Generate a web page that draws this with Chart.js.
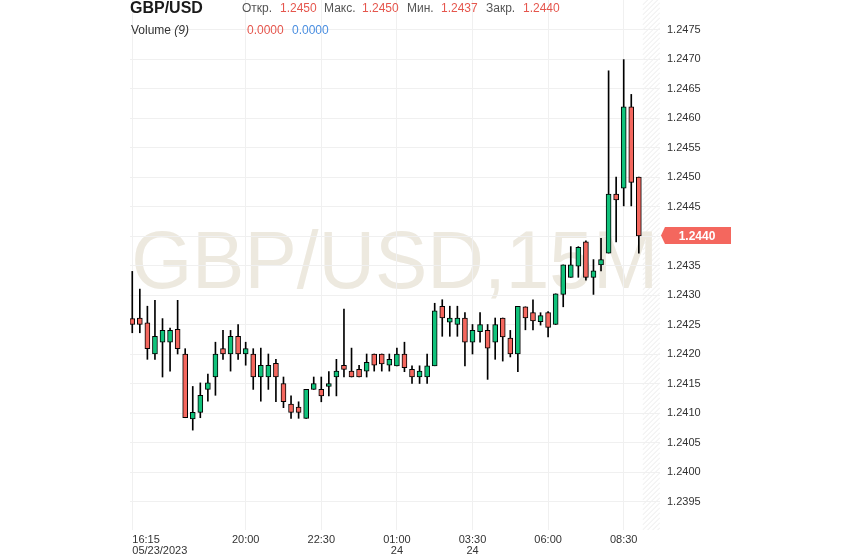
<!DOCTYPE html>
<html>
<head>
<meta charset="utf-8">
<script src="https://cdn.jsdelivr.net/npm/chart.js@4.4.0/dist/chart.umd.min.js"></script>
<style>
  html, body { margin: 0; padding: 0; background: #fff; }
  #wrap { position: relative; width: 844px; height: 558px; font-family: 'Liberation Sans', Arial, sans-serif; }
  #c { position: absolute; left: 0; top: 0; }
  .t { position: absolute; white-space: nowrap; font-size: 12px; line-height: 12px; color: #555; }
  .sym { font-size: 16px; line-height: 16px; font-weight: bold; color: #1a1a1a; }
  .red { color: #e5564d; }
  .blue { color: #4a8ee0; }
  .vol { color: #333; }
</style>
</head>
<body>
<div id="wrap">
  <canvas id="c" width="844" height="558"></canvas>
  <div class="t sym" style="left:130px;top:0px">GBP/USD</div>
  <div class="t" style="left:242px;top:2px">Откр.</div>
  <div class="t red" id="hO" style="left:280px;top:2px"></div>
  <div class="t" style="left:324px;top:2px">Макс.</div>
  <div class="t red" id="hH" style="left:362px;top:2px"></div>
  <div class="t" style="left:407px;top:2px">Мин.</div>
  <div class="t red" id="hL" style="left:441px;top:2px"></div>
  <div class="t" style="left:486px;top:2px">Закр.</div>
  <div class="t red" id="hC" style="left:523px;top:2px"></div>
  <div class="t vol" style="left:131px;top:24px">Volume <i>(9)</i></div>
  <div class="t red" style="left:247px;top:24px">0.0000</div>
  <div class="t blue" style="left:292px;top:24px">0.0000</div>
</div>
<script>
/* GBP/USD 15-minute candles, 05/23/2023 16:15 -> 05/24 09:00 (index 0..67) */
const opens = [
  1.24260, 1.24261, 1.24253, 1.24200, 1.24220, 1.24220, 1.24242, 1.24200, 1.24090, 1.24101,
  1.24140, 1.24161, 1.24209, 1.24200, 1.24230, 1.24200, 1.24200, 1.24161, 1.24161, 1.24184,
  1.24150, 1.24115, 1.24110, 1.24091, 1.24140, 1.24140, 1.24145, 1.24161, 1.24181, 1.24171,
  1.24174, 1.24171, 1.24200, 1.24200, 1.24181, 1.24180, 1.24200, 1.24174, 1.24161, 1.24161,
  1.24180, 1.24281, 1.24254, 1.24250, 1.24261, 1.24220, 1.24238, 1.24240, 1.24220, 1.24261,
  1.24227, 1.24200, 1.24280, 1.24270, 1.24255, 1.24270, 1.24250, 1.24301, 1.24330, 1.24349,
  1.24390, 1.24330, 1.24351, 1.24371, 1.24471, 1.24481, 1.24619, 1.24500
];
const highs = [
  1.24340, 1.24310, 1.24281, 1.24291, 1.24260, 1.24244, 1.24291, 1.24209, 1.24145, 1.24151,
  1.24166, 1.24220, 1.24240, 1.24240, 1.24250, 1.24220, 1.24209, 1.24210, 1.24200, 1.24191,
  1.24161, 1.24129, 1.24119, 1.24140, 1.24161, 1.24161, 1.24170, 1.24191, 1.24276, 1.24210,
  1.24181, 1.24200, 1.24200, 1.24200, 1.24200, 1.24210, 1.24220, 1.24180, 1.24180, 1.24200,
  1.24286, 1.24292, 1.24281, 1.24281, 1.24270, 1.24250, 1.24270, 1.24250, 1.24261, 1.24261,
  1.24240, 1.24281, 1.24280, 1.24292, 1.24270, 1.24272, 1.24302, 1.24351, 1.24382, 1.24382,
  1.24392, 1.24360, 1.24396, 1.24680, 1.24500, 1.24699, 1.24640, 1.24500
];
const lows = [
  1.24236, 1.24236, 1.24191, 1.24191, 1.24161, 1.24171, 1.24200, 1.24092, 1.24071, 1.24092,
  1.24120, 1.24130, 1.24191, 1.24171, 1.24191, 1.24181, 1.24140, 1.24120, 1.24140, 1.24119,
  1.24109, 1.24091, 1.24091, 1.24091, 1.24140, 1.24119, 1.24129, 1.24129, 1.24161, 1.24161,
  1.24161, 1.24161, 1.24171, 1.24171, 1.24171, 1.24180, 1.24170, 1.24150, 1.24150, 1.24150,
  1.24180, 1.24230, 1.24230, 1.24230, 1.24180, 1.24200, 1.24220, 1.24157, 1.24191, 1.24188,
  1.24195, 1.24170, 1.24241, 1.24241, 1.24249, 1.24229, 1.24250, 1.24280, 1.24330, 1.24330,
  1.24325, 1.24301, 1.24341, 1.24371, 1.24390, 1.24451, 1.24451, 1.24371
];
const closes = [
  1.24250, 1.24250, 1.24209, 1.24230, 1.24240, 1.24240, 1.24209, 1.24092, 1.24101, 1.24130,
  1.24151, 1.24200, 1.24200, 1.24230, 1.24200, 1.24209, 1.24161, 1.24181, 1.24181, 1.24161,
  1.24119, 1.24101, 1.24101, 1.24140, 1.24150, 1.24129, 1.24150, 1.24171, 1.24174, 1.24161,
  1.24161, 1.24186, 1.24181, 1.24183, 1.24191, 1.24200, 1.24177, 1.24161, 1.24171, 1.24180,
  1.24273, 1.24261, 1.24261, 1.24261, 1.24220, 1.24240, 1.24250, 1.24210, 1.24250, 1.24229,
  1.24200, 1.24281, 1.24261, 1.24256, 1.24265, 1.24245, 1.24302, 1.24351, 1.24351, 1.24381,
  1.24330, 1.24341, 1.24360, 1.24471, 1.24461, 1.24619, 1.24491, 1.24400
];

// x axis: candle index of each time label, and the label text
const timeTickIdx = [0, 15, 25, 35, 45, 55, 65];
const timeTickText = [['16:15', '05/23/2023'], '20:00', '22:30', ['01:00', '24'], ['03:30', '24'], '06:00', '08:30'];

const priceTicks = [1.2395, 1.2400, 1.2405, 1.2410, 1.2415, 1.2420, 1.2425, 1.2430,
                    1.2435, 1.2440, 1.2445, 1.2450, 1.2455, 1.2460, 1.2465, 1.2470, 1.2475];

const UP = '#10c27b', DOWN = '#f4675e', TAG = '#f4675e';
const GRID = '#f0f0f0';
const last = closes.length - 1;

document.getElementById('hO').textContent = opens[last].toFixed(4);
document.getElementById('hH').textContent = highs[last].toFixed(4);
document.getElementById('hL').textContent = lows[last].toFixed(4);
document.getElementById('hC').textContent = closes[last].toFixed(4);

// watermark + hatched "future" strip, under the grid
const backdrop = {
  id: 'backdrop',
  beforeDraw(chart) {
    const { ctx, chartArea } = chart;
    const xs = chart.scales.x;
    ctx.save();
    // hatch
    const hx = xs.getPixelForValue(67.5);
    const w = chartArea.right - hx;
    ctx.beginPath();
    ctx.rect(hx, chartArea.top, w, chartArea.bottom - chartArea.top);
    ctx.clip();
    ctx.strokeStyle = '#ebebeb';
    ctx.lineWidth = 1;
    for (let y = chartArea.top - w; y < chartArea.bottom + w; y += 5) {
      ctx.beginPath();
      ctx.moveTo(hx, y + w);
      ctx.lineTo(hx + w, y);
      ctx.stroke();
    }
    ctx.restore();

    // watermark
    ctx.save();
    const txt = 'GBP/USD,15M';
    ctx.font = '81px "Liberation Sans", Arial, sans-serif';
    const m = ctx.measureText(txt);
    const ink = m.actualBoundingBoxLeft + m.actualBoundingBoxRight;
    ctx.translate(135, 288);
    ctx.scale(517 / ink, 1);
    ctx.fillStyle = '#ede9df';
    ctx.textBaseline = 'alphabetic';
    ctx.fillText(txt, m.actualBoundingBoxLeft, 0);
    ctx.restore();
  }
};

// last price tag on the price axis
const priceTag = {
  id: 'priceTag',
  afterDraw(chart) {
    const { ctx, chartArea } = chart;
    const y = Math.round(chart.scales.y.getPixelForValue(closes[last])) - 0.5;
    const x0 = chartArea.right + 1;
    ctx.save();
    ctx.fillStyle = TAG;
    ctx.beginPath();
    ctx.moveTo(x0, y);
    ctx.lineTo(x0 + 4, y - 8.5);
    ctx.lineTo(x0 + 70, y - 8.5);
    ctx.lineTo(x0 + 70, y + 8.5);
    ctx.lineTo(x0 + 4, y + 8.5);
    ctx.closePath();
    ctx.fill();
    ctx.fillStyle = '#fff';
    ctx.font = 'bold 12px "Liberation Sans", Arial, sans-serif';
    ctx.textAlign = 'center';
    ctx.textBaseline = 'middle';
    ctx.fillText(closes[last].toFixed(4), x0 + 36, y + 1);
    ctx.restore();
  }
};

const wickData = highs.map((h, i) => ({ x: i, y: [lows[i], h] }));
const bodyData = opens.map((o, i) => ({ x: i, y: [o, closes[i]] }));
const bodyColors = opens.map((o, i) => (closes[i] >= o ? UP : DOWN));

new Chart(document.getElementById('c'), {
  type: 'bar',
  data: {
    datasets: [
      { label: 'wick', data: wickData, backgroundColor: '#000', barThickness: 1, grouped: false, order: 2 },
      { label: 'body', data: bodyData, backgroundColor: bodyColors, borderColor: '#000', borderWidth: 1,
        borderSkipped: false, barThickness: 5, grouped: false, order: 1 }
    ]
  },
  options: {
    responsive: false,
    animation: false,
    devicePixelRatio: 1,
    events: [],
    layout: { padding: { left: 130, top: 0, right: 0, bottom: 0 } },
    plugins: { legend: { display: false }, tooltip: { enabled: false } },
    scales: {
      x: {
        type: 'linear',
        offset: false,
        min: -0.3,
        max: 69.8,
        afterBuildTicks: s => { s.ticks = timeTickIdx.concat([69.8]).map(v => ({ value: v })); },
        afterFit: s => { s.height = 28; s.paddingLeft = 0; s.paddingRight = 0; },
        grid: {
          offset: false,
          color: c => (c.index === timeTickIdx.length ? 'transparent' : GRID),
          drawTicks: false
        },
        border: { display: false },
        ticks: {
          autoSkip: false,
          maxRotation: 0,
          align: 'inner',
          padding: 4,
          color: '#333',
          font: { family: '"Liberation Sans", Arial, sans-serif', size: 11, lineHeight: 1 },
          callback: (v, i) => (i < timeTickText.length ? timeTickText[i] : '')
        }
      },
      y: {
        position: 'right',
        min: 1.239017,
        max: 1.2480,
        afterBuildTicks: s => { s.ticks = priceTicks.map(v => ({ value: v })); },
        afterFit: s => { s.width = 184; s.paddingTop = 0; s.paddingBottom = 0; },
        grid: { color: GRID, drawTicks: false },
        border: { display: false },
        ticks: {
          padding: 7,
          color: '#333',
          font: { family: '"Liberation Sans", Arial, sans-serif', size: 11 },
          callback: v => (Math.abs(v - closes[last]) < 1e-7 ? '' : v.toFixed(4))
        }
      }
    }
  },
  plugins: [backdrop, priceTag]
});
</script>
</body>
</html>
